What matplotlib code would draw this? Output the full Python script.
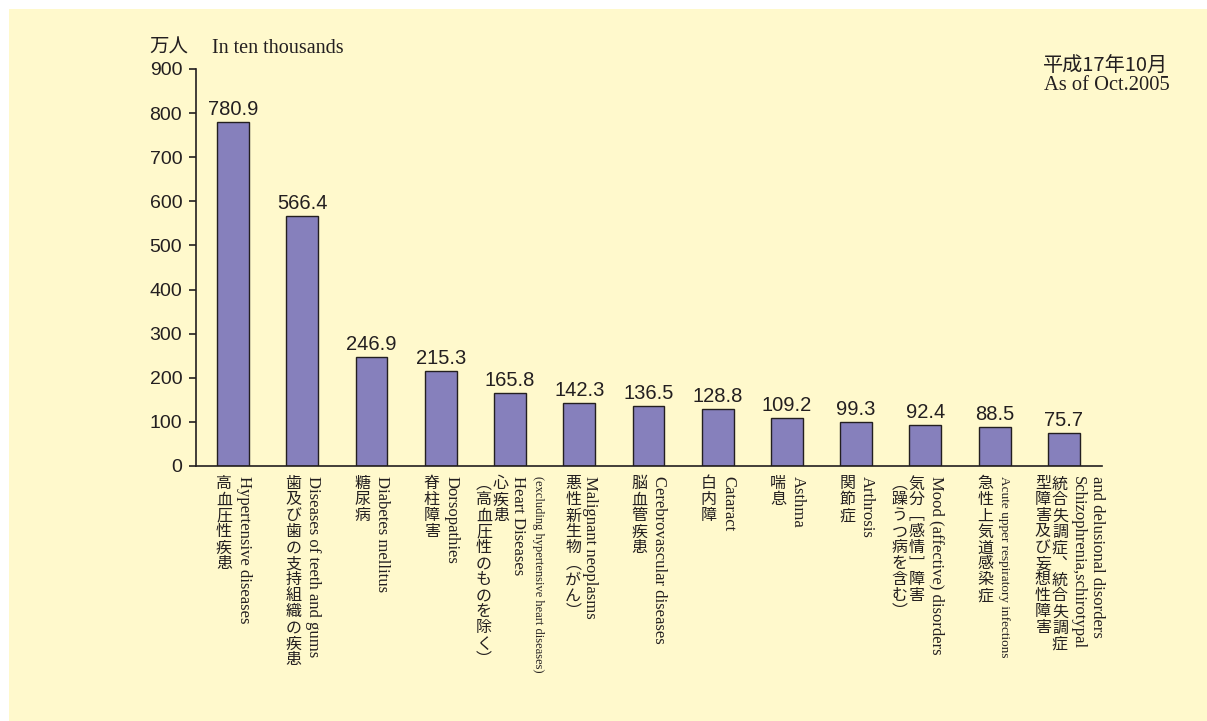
import matplotlib
matplotlib.use("Agg")
import matplotlib.pyplot as plt
from matplotlib.patches import Rectangle

# data (values in ten thousands, Oct 2005)
values = [780.9, 566.4, 246.9, 215.3, 165.8, 142.3, 136.5, 128.8, 109.2, 99.3, 92.4, 88.5, 75.7]

# Japanese labels, one list of columns per bar (right column first)
jp_labels = [
    ["高血圧性疾患"],
    ["歯及び歯の支持組織の疾患"],
    ["糖尿病"],
    ["脊柱障害"],
    ["心疾患", "︵高血圧性のものを除く︶"],
    ["悪性新生物︵がん︶"],
    ["脳血管疾患"],
    ["白内障"],
    ["喘息"],
    ["関節症"],
    ["気分﹇感情﹈障害", "︵躁うつ病を含む︶"],
    ["急性上気道感染症"],
    ["統合失調症︑統合失調症", "型障害及び妄想性障害"],
]

# English labels, one list of columns per bar (left column first)
en_labels = [
    ["Hypertensive diseases"],
    ["Diseases of teeth and gums"],
    ["Diabetes mellitus"],
    ["Dorsopathies"],
    ["Heart Diseases", "(excluding hypertensive heart diseases)"],
    ["Malignant neoplasms"],
    ["Cerebrovascular diseases"],
    ["Cataract"],
    ["Asthma"],
    ["Arthrosis"],
    ["Mood (affective) disorders"],
    ["Acute upper respiratory infections"],
    ["Schizophrenia,schirotypal", "and delusional disorders"],
]

y_ticks = [0, 100, 200, 300, 400, 500, 600, 700, 800, 900]

bg = "#FFF9CC"
bar_color = "#8680BC"
ink = "#231F20"
jp_font = ["Noto Sans CJK JP", "DejaVu Sans"]
en_font = "Liberation Serif"
num_font = "Liberation Sans"

fig = plt.figure(figsize=(12.07, 7.21), dpi=100)
fig.patch.set_facecolor("white")
# pale yellow panel
fig.patches.append(Rectangle((9 / 1207, 0), 1 - 9 / 1207, 1 - 9 / 721,
                             transform=fig.transFigure, facecolor=bg,
                             edgecolor="none", zorder=-10))

ax = fig.add_axes([0.1624, 0.3537, 0.913 - 0.1624, 0.5506])
ax.set_facecolor("none")

x = list(range(len(values)))
ax.bar(x, values, width=0.46, color=bar_color, edgecolor=ink, linewidth=1.0)

ax.set_xlim(-0.534, 12.55)
ax.set_ylim(0, 900)
ax.set_yticks(y_ticks)
ax.set_xticks([])
for s in ["top", "right"]:
    ax.spines[s].set_visible(False)
for s in ["left", "bottom"]:
    ax.spines[s].set_color(ink)
    ax.spines[s].set_linewidth(1.2)
ax.tick_params(axis="y", direction="out", length=5, width=1.2, color=ink,
               pad=5, labelsize=14, labelcolor=ink)
for lab in ax.get_yticklabels():
    lab.set_fontfamily(num_font)

# value labels
for xi, v in zip(x, values):
    ax.annotate(f"{v:.1f}", xy=(xi, v), xytext=(0, 3), textcoords="offset pixels",
                ha="center", va="bottom", fontsize=14.5, family=num_font, color=ink)

# vertical category labels
top = -10  # px below axis
pitch = 16
for xi, cols in zip(x, jp_labels):
    for c, col in enumerate(cols):
        dx = -9 - 17 * c
        if xi == 5:
            dx = -6
        if xi == 12:
            dx = -4 - 17 * c
        for k, ch in enumerate(col):
            ax.annotate(ch, xy=(xi, 0), xytext=(dx, top - k * pitch - pitch / 2),
                        textcoords="offset pixels", ha="center", va="center",
                        fontsize=11.5, family=jp_font, color=ink,
                        annotation_clip=False)

for xi, cols in zip(x, en_labels):
    for c, col in enumerate(cols):
        dx = 11 + 20 * c
        size = 12
        if xi == 4:
            dx = 8 + 20 * c
            if c == 1:
                size = 9
        if xi == 11:
            size = 9.5
            dx = 9
        if xi == 12:
            dx = 14 + 19 * c
        ax.annotate(col, xy=(xi, 0), xytext=(dx, top),
                    textcoords="offset pixels", ha="center", va="top",
                    rotation=270, fontsize=size, family=en_font, color=ink,
                    annotation_clip=False)

# unit and date notes
fig.text(149 / 1207, 1 - 53 / 721, "万人", fontsize=14, family=jp_font, color=ink,
         va="baseline")
fig.text(212 / 1207, 1 - 53 / 721, "In ten thousands", fontsize=14.5, family=en_font,
         color=ink, va="baseline")
fig.text(1168 / 1207, 1 - 72 / 721, "平成17年10月", fontsize=14.5, family=jp_font,
         color=ink, ha="right", va="baseline")
fig.text(1170 / 1207, 1 - 90 / 721, "As of Oct.2005", fontsize=14.8, family=en_font,
         color=ink, ha="right", va="baseline")

fig.savefig("out.png", dpi=100)
